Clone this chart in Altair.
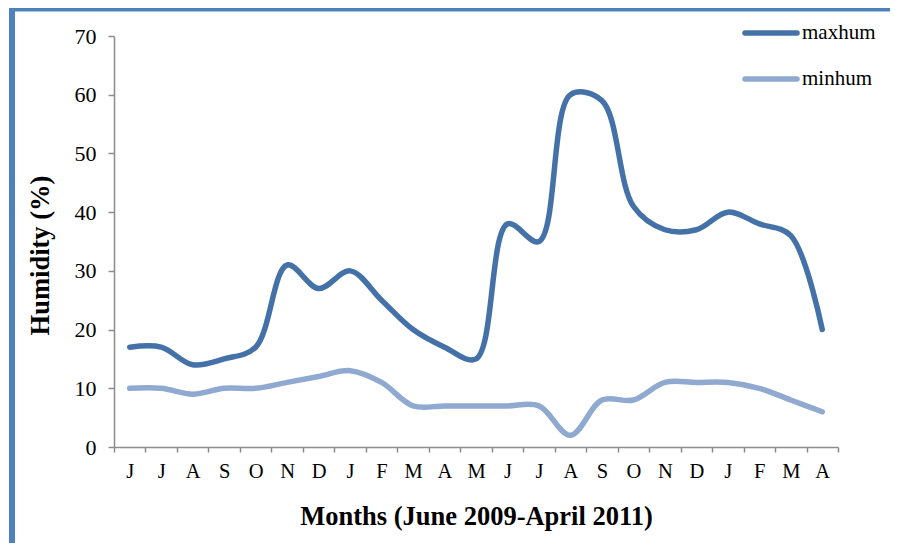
import altair as alt
import pandas as pd

months = ["Jun 2009", "Jul 2009", "Aug 2009", "Sep 2009", "Oct 2009", "Nov 2009", "Dec 2009",
          "Jan 2010", "Feb 2010", "Mar 2010", "Apr 2010", "May 2010", "Jun 2010", "Jul 2010",
          "Aug 2010", "Sep 2010", "Oct 2010", "Nov 2010", "Dec 2010",
          "Jan 2011", "Feb 2011", "Mar 2011", "Apr 2011"]
maxhum = [17, 17, 14, 15, 17, 31, 27, 30, 25, 20, 17, 15, 38, 35, 60, 59, 41, 37, 37, 40, 38, 36, 20]
minhum = [10, 10, 9, 10, 10, 11, 12, 13, 11, 7, 7, 7, 7, 7, 2, 8, 8, 11, 11, 11, 10, 8, 6]
series = ["maxhum", "minhum"]
colors = ["#4571A9", "#8FA9D1"]
y_ticks = [0, 10, 20, 30, 40, 50, 60, 70]

df = pd.DataFrame({"month": months, "maxhum": maxhum, "minhum": minhum})
long = df.melt(id_vars="month", value_vars=series, var_name="series", value_name="value")

FONT = "Times New Roman, Liberation Serif, serif"
AXIS_GREY = "#8C8C8C"

lines = alt.Chart(long).mark_line(
    interpolate="catmull-rom", strokeWidth=5.5, strokeCap="round", strokeJoin="round"
).encode(
    x=alt.X("month:O", sort=months,
            scale=alt.Scale(type="band", paddingInner=0, paddingOuter=0),
            axis=alt.Axis(
                title="Months (June 2009-April 2011)",
                labelExpr="datum.value ? substring(datum.value, 0, 1) : ''",
                labelAngle=0, labelFont=FONT, labelFontSize=20.5, labelColor="#000000",
                labelPadding=9, tickBand="extent", tickSize=5, tickColor=AXIS_GREY,
                tickWidth=1.5, domainColor=AXIS_GREY, domainWidth=1.5, grid=False,
                titleFont=FONT, titleFontSize=26.5, titleFontWeight="bold", titleColor="#000000",
                titleY=77, titleBaseline="alphabetic")),
    y=alt.Y("value:Q", scale=alt.Scale(domain=[0, 70], nice=False),
            axis=alt.Axis(
                title="Humidity (%)", values=y_ticks, labelFont=FONT, labelFontSize=22,
                labelColor="#000000", labelPadding=12, tickSize=6, tickColor=AXIS_GREY,
                tickWidth=1.5, domainColor=AXIS_GREY, domainWidth=1.5, grid=False,
                titleFont=FONT, titleFontSize=26.5, titleFontWeight="bold", titleColor="#000000",
                titleX=-66, titleY=219, titleAlign="center", titleBaseline="alphabetic",
                titleAngle=270)),
    color=alt.Color("series:N", scale=alt.Scale(domain=series, range=colors), legend=None),
)

layers = [lines]

# manual legend
for i, (s, c) in enumerate(zip(series, colors)):
    one = alt.Chart(pd.DataFrame({"series": [s]}))
    layers.append(one.mark_rule(strokeWidth=5.5, strokeCap="round", color=c).encode(
        x=alt.value(631), x2=alt.value(683), y=alt.value(-3 + 46 * i)))
    layers.append(one.mark_text(align="left", baseline="middle", font=FONT, fontSize=21,
                                color="#000000").encode(
        x=alt.value(688), y=alt.value(-3 + 46 * i), text="series:N"))

# blue frame
frame = alt.Chart(pd.DataFrame({"k": [0]}))
layers.append(frame.mark_rule(color="#4F81BD", strokeWidth=6).encode(
    x=alt.value(-102), y=alt.value(-30), y2=alt.value(620)))
layers.append(frame.mark_rule(color="#4F81BD", strokeWidth=6).encode(
    x=alt.value(-105), x2=alt.value(800), y=alt.value(-27.5)))

chart = alt.layer(*layers).properties(
    width=724, height=411,
    autosize=alt.AutoSizeParams(type="none"),
    padding={"left": 106, "top": 28, "right": 52, "bottom": 96},
).configure_view(stroke="transparent")

chart.save("out.html", embed_options={"renderer": "svg", "actions": False})
